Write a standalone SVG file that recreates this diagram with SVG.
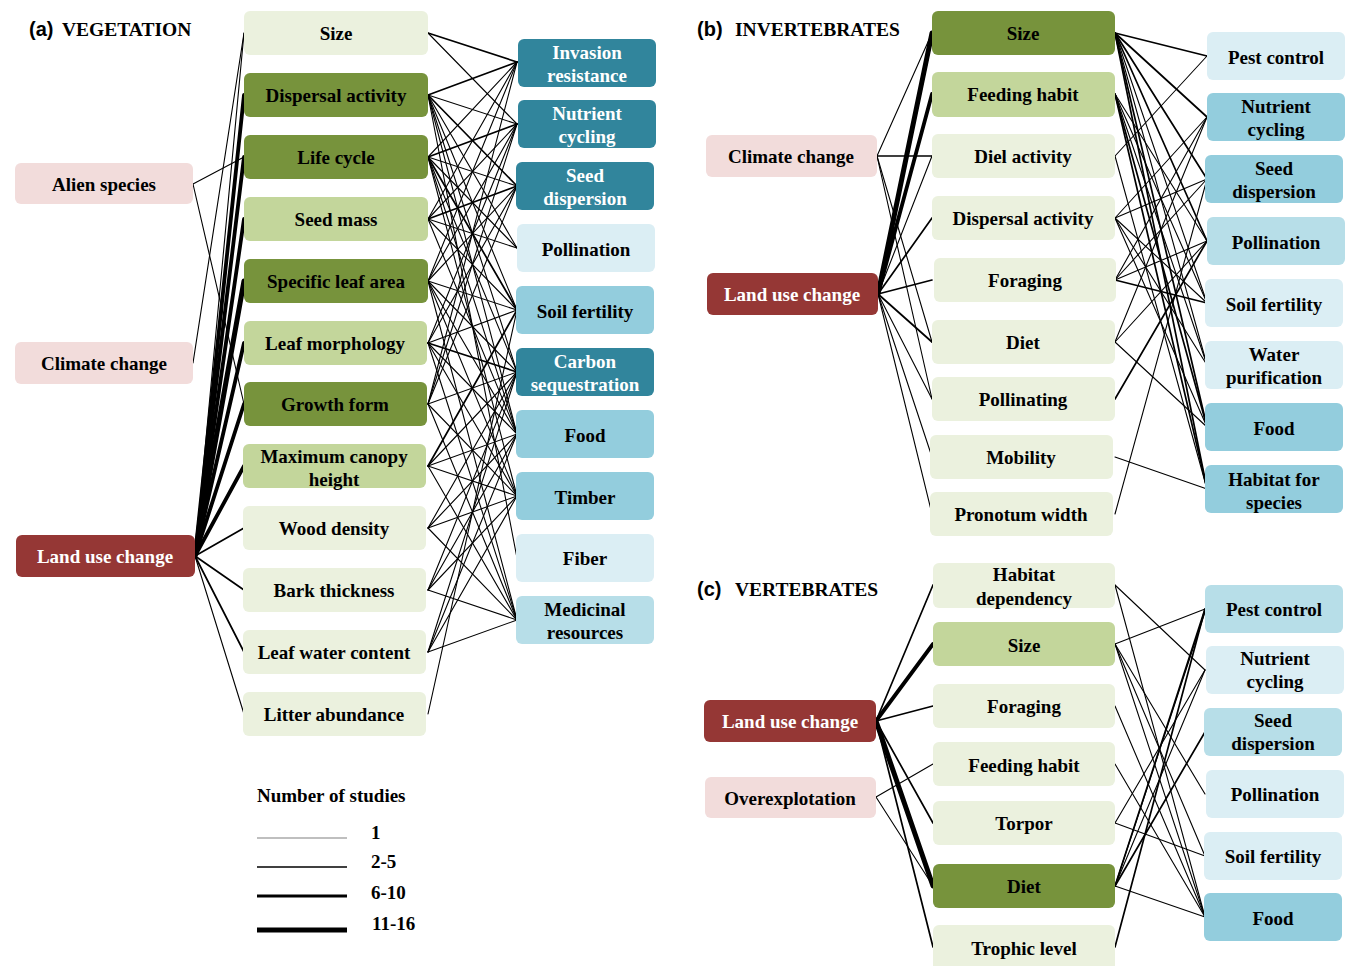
<svg xmlns="http://www.w3.org/2000/svg" width="1347" height="966" viewBox="0 0 1347 966">
<style>
text{font-family:"Liberation Serif","Times New Roman",serif;font-weight:bold;font-size:19px;text-anchor:middle;fill:#000}
.w{fill:#fff}
.ttl{text-anchor:start}
.hd{font-size:19.5px}
.lbl{font-family:"Liberation Sans",Arial,sans-serif;font-size:20px;text-anchor:start}
rect{rx:6;ry:6}
.pk{fill:#f2dcdb}.dr{fill:#953735}
.g1{fill:#ebf1de}.g2{fill:#c3d69b}.g3{fill:#77933c}
.b0{fill:#31859c}.b1{fill:#93cddd}.b2{fill:#b7dee8}.b3{fill:#dbeef4}
line{stroke:#000;stroke-linecap:round}
.t1{stroke-width:1.1}.t2{stroke-width:1.7}.t3{stroke-width:2.6}.t4{stroke-width:3.8}.t5{stroke-width:5}
</style>

<g id="titles">
<text class="lbl" x="29" y="36">(a)</text><text class="ttl hd" x="62" y="36">VEGETATION</text>
<text class="lbl" x="697" y="36">(b)</text><text class="ttl hd" x="735" y="36">INVERTEBRATES</text>
<text class="lbl" x="697" y="596">(c)</text><text class="ttl hd" x="735" y="596">VERTEBRATES</text>
</g>

<g id="connectors">
<!-- panel a drivers -->
<line class="t1" x1="193" y1="184" x2="244" y2="157"/>
<line class="t1" x1="193" y1="184" x2="244" y2="404"/>
<line class="t1" x1="193" y1="363" x2="244" y2="33"/>
<line class="t1" x1="195" y1="556" x2="244" y2="33"/>
<line class="t4" x1="195" y1="556" x2="244" y2="95"/>
<line class="t4" x1="195" y1="556" x2="244" y2="157"/>
<line class="t4" x1="195" y1="556" x2="244" y2="219"/>
<line class="t5" x1="195" y1="556" x2="244" y2="281"/>
<line class="t4" x1="195" y1="556" x2="244" y2="343"/>
<line class="t4" x1="195" y1="556" x2="244" y2="404"/>
<line class="t4" x1="195" y1="556" x2="244" y2="466"/>
<line class="t2" x1="195" y1="556" x2="244" y2="528"/>
<line class="t2" x1="195" y1="556" x2="244" y2="590"/>
<line class="t2" x1="195" y1="556" x2="244" y2="652"/>
<line class="t1" x1="195" y1="556" x2="244" y2="714"/>
<!-- panel a traits to services -->
<line class="t2" x1="428" y1="33" x2="517" y2="62"/>
<line class="t1" x1="428" y1="33" x2="517" y2="124"/>
<line class="t2" x1="428" y1="95" x2="517" y2="62"/>
<line class="t1" x1="428" y1="95" x2="517" y2="124"/>
<line class="t2" x1="428" y1="95" x2="517" y2="186"/>
<line class="t1" x1="428" y1="95" x2="517" y2="248"/>
<line class="t1" x1="428" y1="95" x2="517" y2="310"/>
<line class="t1" x1="428" y1="95" x2="517" y2="372"/>
<line class="t1" x1="428" y1="95" x2="517" y2="434"/>
<line class="t1" x1="428" y1="95" x2="517" y2="558"/>
<line class="t1" x1="428" y1="157" x2="517" y2="62"/>
<line class="t2" x1="428" y1="157" x2="517" y2="124"/>
<line class="t1" x1="428" y1="157" x2="517" y2="186"/>
<line class="t1" x1="428" y1="157" x2="517" y2="248"/>
<line class="t2" x1="428" y1="157" x2="517" y2="310"/>
<line class="t1" x1="428" y1="157" x2="517" y2="372"/>
<line class="t1" x1="428" y1="157" x2="517" y2="434"/>
<line class="t1" x1="428" y1="157" x2="517" y2="496"/>
<line class="t1" x1="428" y1="219" x2="517" y2="62"/>
<line class="t1" x1="428" y1="219" x2="517" y2="124"/>
<line class="t2" x1="428" y1="219" x2="517" y2="186"/>
<line class="t1" x1="428" y1="219" x2="517" y2="248"/>
<line class="t1" x1="428" y1="219" x2="517" y2="310"/>
<line class="t1" x1="428" y1="219" x2="517" y2="434"/>
<line class="t1" x1="428" y1="281" x2="517" y2="62"/>
<line class="t1" x1="428" y1="281" x2="517" y2="124"/>
<line class="t1" x1="428" y1="281" x2="517" y2="186"/>
<line class="t1" x1="428" y1="281" x2="517" y2="310"/>
<line class="t1" x1="428" y1="281" x2="517" y2="372"/>
<line class="t1" x1="428" y1="281" x2="517" y2="434"/>
<line class="t1" x1="428" y1="281" x2="517" y2="496"/>
<line class="t1" x1="428" y1="281" x2="517" y2="620"/>
<line class="t1" x1="428" y1="343" x2="517" y2="124"/>
<line class="t1" x1="428" y1="343" x2="517" y2="186"/>
<line class="t1" x1="428" y1="343" x2="517" y2="310"/>
<line class="t2" x1="428" y1="343" x2="517" y2="372"/>
<line class="t1" x1="428" y1="343" x2="517" y2="434"/>
<line class="t1" x1="428" y1="343" x2="517" y2="496"/>
<line class="t1" x1="428" y1="343" x2="517" y2="620"/>
<line class="t1" x1="428" y1="404" x2="517" y2="62"/>
<line class="t1" x1="428" y1="404" x2="517" y2="124"/>
<line class="t1" x1="428" y1="404" x2="517" y2="186"/>
<line class="t1" x1="428" y1="404" x2="517" y2="372"/>
<line class="t1" x1="428" y1="404" x2="517" y2="496"/>
<line class="t1" x1="428" y1="404" x2="517" y2="620"/>
<line class="t2" x1="428" y1="466" x2="517" y2="310"/>
<line class="t1" x1="428" y1="466" x2="517" y2="372"/>
<line class="t1" x1="428" y1="466" x2="517" y2="434"/>
<line class="t1" x1="428" y1="466" x2="517" y2="496"/>
<line class="t1" x1="428" y1="466" x2="517" y2="620"/>
<line class="t1" x1="428" y1="528" x2="517" y2="372"/>
<line class="t1" x1="428" y1="528" x2="517" y2="434"/>
<line class="t1" x1="428" y1="528" x2="517" y2="496"/>
<line class="t1" x1="428" y1="528" x2="517" y2="620"/>
<line class="t1" x1="428" y1="590" x2="517" y2="372"/>
<line class="t1" x1="428" y1="590" x2="517" y2="434"/>
<line class="t1" x1="428" y1="590" x2="517" y2="496"/>
<line class="t1" x1="428" y1="590" x2="517" y2="620"/>
<line class="t1" x1="428" y1="652" x2="517" y2="372"/>
<line class="t1" x1="428" y1="652" x2="517" y2="434"/>
<line class="t1" x1="428" y1="652" x2="517" y2="496"/>
<line class="t1" x1="428" y1="652" x2="517" y2="620"/>
<line class="t1" x1="428" y1="714" x2="517" y2="310"/>

<!-- panel b drivers -->
<line class="t1" x1="877" y1="156" x2="932" y2="33"/>
<line class="t2" x1="877" y1="156" x2="932" y2="156"/>
<line class="t1" x1="877" y1="156" x2="932" y2="342"/>
<line class="t1" x1="877" y1="156" x2="932" y2="399"/>
<line class="t5" x1="878" y1="294" x2="932" y2="33"/>
<line class="t3" x1="878" y1="294" x2="932" y2="36"/>
<line class="t4" x1="878" y1="294" x2="932" y2="94"/>
<line class="t1" x1="878" y1="294" x2="932" y2="156"/>
<line class="t2" x1="878" y1="294" x2="932" y2="218"/>
<line class="t2" x1="878" y1="294" x2="932" y2="280"/>
<line class="t2" x1="878" y1="294" x2="932" y2="342"/>
<line class="t1" x1="878" y1="294" x2="932" y2="399"/>
<line class="t1" x1="878" y1="294" x2="932" y2="457"/>
<line class="t1" x1="878" y1="294" x2="932" y2="514"/>
<!-- panel b traits to services -->
<line class="t2" x1="1115" y1="33" x2="1207" y2="56"/>
<line class="t2" x1="1115" y1="33" x2="1207" y2="117"/>
<line class="t2" x1="1115" y1="33" x2="1207" y2="179"/>
<line class="t2" x1="1115" y1="33" x2="1207" y2="241"/>
<line class="t1" x1="1115" y1="33" x2="1207" y2="303"/>
<line class="t1" x1="1115" y1="33" x2="1207" y2="365"/>
<line class="t2" x1="1115" y1="33" x2="1207" y2="427"/>
<line class="t2" x1="1115" y1="33" x2="1207" y2="489"/>
<line class="t1" x1="1115" y1="94" x2="1207" y2="241"/>
<line class="t1" x1="1115" y1="94" x2="1207" y2="303"/>
<line class="t1" x1="1115" y1="94" x2="1207" y2="365"/>
<line class="t2" x1="1115" y1="94" x2="1207" y2="427"/>
<line class="t2" x1="1115" y1="94" x2="1207" y2="489"/>
<line class="t1" x1="1115" y1="156" x2="1207" y2="56"/>
<line class="t1" x1="1115" y1="156" x2="1207" y2="489"/>
<line class="t1" x1="1115" y1="218" x2="1207" y2="117"/>
<line class="t1" x1="1115" y1="218" x2="1207" y2="179"/>
<line class="t1" x1="1115" y1="218" x2="1207" y2="303"/>
<line class="t1" x1="1115" y1="218" x2="1207" y2="365"/>
<line class="t1" x1="1115" y1="218" x2="1207" y2="427"/>
<line class="t1" x1="1115" y1="280" x2="1207" y2="117"/>
<line class="t1" x1="1115" y1="280" x2="1207" y2="179"/>
<line class="t1" x1="1115" y1="280" x2="1207" y2="241"/>
<line class="t2" x1="1115" y1="280" x2="1207" y2="303"/>
<line class="t1" x1="1115" y1="342" x2="1207" y2="117"/>
<line class="t1" x1="1115" y1="342" x2="1207" y2="241"/>
<line class="t1" x1="1115" y1="342" x2="1207" y2="427"/>
<line class="t2" x1="1115" y1="399" x2="1207" y2="241"/>
<line class="t1" x1="1115" y1="457" x2="1207" y2="489"/>
<line class="t1" x1="1115" y1="514" x2="1207" y2="179"/>

<!-- panel c drivers -->
<line class="t2" x1="876" y1="721" x2="933" y2="585"/>
<line class="t4" x1="876" y1="721" x2="933" y2="644"/>
<line class="t2" x1="876" y1="721" x2="933" y2="706"/>
<line class="t2" x1="876" y1="721" x2="933" y2="823"/>
<line class="t5" x1="876" y1="721" x2="933" y2="886"/>
<line class="t2" x1="876" y1="721" x2="933" y2="947"/>
<line class="t1" x1="876" y1="797" x2="933" y2="764"/>
<line class="t1" x1="876" y1="797" x2="933" y2="886"/>
<!-- panel c traits to services -->
<line class="t1" x1="1115" y1="585" x2="1205" y2="670"/>
<line class="t1" x1="1115" y1="585" x2="1205" y2="917"/>
<line class="t1" x1="1115" y1="644" x2="1205" y2="609"/>
<line class="t1" x1="1115" y1="644" x2="1205" y2="794"/>
<line class="t1" x1="1115" y1="644" x2="1205" y2="856"/>
<line class="t1" x1="1115" y1="644" x2="1205" y2="917"/>
<line class="t1" x1="1115" y1="706" x2="1205" y2="917"/>
<line class="t1" x1="1115" y1="764" x2="1205" y2="917"/>
<line class="t1" x1="1115" y1="823" x2="1205" y2="670"/>
<line class="t1" x1="1115" y1="823" x2="1205" y2="856"/>
<line class="t2" x1="1115" y1="886" x2="1205" y2="609"/>
<line class="t1" x1="1115" y1="886" x2="1205" y2="612"/>
<line class="t1" x1="1115" y1="886" x2="1205" y2="670"/>
<line class="t2" x1="1115" y1="886" x2="1205" y2="732"/>
<line class="t1" x1="1115" y1="886" x2="1205" y2="917"/>
<line class="t2" x1="1115" y1="947" x2="1205" y2="609"/>
</g>

<!-- panel a nodes -->
<g id="a-alien"><rect class="pk" x="15" y="163" width="178" height="41"/><text x="104" y="191">Alien species</text></g>
<g id="a-climate"><rect class="pk" x="15" y="342" width="178" height="42"/><text x="104" y="370">Climate change</text></g>
<g id="a-landuse"><rect class="dr" x="16" y="535" width="179" height="42"/><text class="w" x="105" y="563">Land use change</text></g>

<g id="a-size"><rect class="g1" x="244" y="11" width="184" height="44"/><text x="336" y="40">Size</text></g>
<g id="a-dispersal"><rect class="g3" x="244" y="73" width="184" height="44"/><text x="336" y="102">Dispersal activity</text></g>
<g id="a-lifecycle"><rect class="g3" x="244" y="135" width="184" height="44"/><text x="336" y="164">Life cycle</text></g>
<g id="a-seedmass"><rect class="g2" x="244" y="197" width="184" height="44"/><text x="336" y="226">Seed mass</text></g>
<g id="a-sla"><rect class="g3" x="244" y="259" width="184" height="44"/><text x="336" y="288">Specific leaf area</text></g>
<g id="a-leafmorph"><rect class="g2" x="244" y="321" width="183" height="44"/><text x="335" y="350">Leaf morphology</text></g>
<g id="a-growth"><rect class="g3" x="244" y="382" width="183" height="44"/><text x="335" y="411">Growth form</text></g>
<g id="a-canopy"><rect class="g2" x="243" y="444" width="183" height="44"/><text x="334" y="463">Maximum canopy</text><text x="334" y="486">height</text></g>
<g id="a-wood"><rect class="g1" x="243" y="506" width="183" height="44"/><text x="334" y="535">Wood density</text></g>
<g id="a-bark"><rect class="g1" x="243" y="568" width="183" height="44"/><text x="334" y="597">Bark thickness</text></g>
<g id="a-lwc"><rect class="g1" x="243" y="630" width="183" height="44"/><text x="334" y="659">Leaf water content</text></g>
<g id="a-litter"><rect class="g1" x="243" y="692" width="183" height="44"/><text x="334" y="721">Litter abundance</text></g>

<g id="a-invasion"><rect class="b0" x="518" y="39" width="138" height="48"/><text class="w" x="587" y="59">Invasion</text><text class="w" x="587" y="82">resistance</text></g>
<g id="a-nutrient"><rect class="b0" x="518" y="100" width="138" height="48"/><text class="w" x="587" y="120">Nutrient</text><text class="w" x="587" y="143">cycling</text></g>
<g id="a-seed"><rect class="b0" x="516" y="162" width="138" height="48"/><text class="w" x="585" y="182">Seed</text><text class="w" x="585" y="205">dispersion</text></g>
<g id="a-pollination"><rect class="b3" x="517" y="224" width="138" height="48"/><text x="586" y="256">Pollination</text></g>
<g id="a-soil"><rect class="b1" x="516" y="286" width="138" height="48"/><text x="585" y="318">Soil fertility</text></g>
<g id="a-carbon"><rect class="b0" x="516" y="348" width="138" height="48"/><text class="w" x="585" y="368">Carbon</text><text class="w" x="585" y="391">sequestration</text></g>
<g id="a-food"><rect class="b1" x="516" y="410" width="138" height="48"/><text x="585" y="442">Food</text></g>
<g id="a-timber"><rect class="b1" x="516" y="472" width="138" height="48"/><text x="585" y="504">Timber</text></g>
<g id="a-fiber"><rect class="b3" x="516" y="534" width="138" height="48"/><text x="585" y="565">Fiber</text></g>
<g id="a-medicinal"><rect class="b2" x="516" y="596" width="138" height="48"/><text x="585" y="616">Medicinal</text><text x="585" y="639">resources</text></g>

<!-- panel b nodes -->
<g id="b-climate"><rect class="pk" x="706" y="135" width="171" height="42"/><text x="791" y="163">Climate change</text></g>
<g id="b-landuse"><rect class="dr" x="707" y="273" width="171" height="42"/><text class="w" x="792" y="301">Land use change</text></g>

<g id="b-size"><rect class="g3" x="932" y="11" width="183" height="44"/><text x="1023" y="40">Size</text></g>
<g id="b-feeding"><rect class="g2" x="932" y="72" width="183" height="45"/><text x="1023" y="101">Feeding habit</text></g>
<g id="b-diel"><rect class="g1" x="932" y="134" width="183" height="44"/><text x="1023" y="163">Diel activity</text></g>
<g id="b-dispersal"><rect class="g1" x="932" y="196" width="183" height="44"/><text x="1023" y="225">Dispersal activity</text></g>
<g id="b-foraging"><rect class="g1" x="934" y="258" width="182" height="44"/><text x="1025" y="287">Foraging</text></g>
<g id="b-diet"><rect class="g1" x="932" y="320" width="183" height="44"/><text x="1023" y="349">Diet</text></g>
<g id="b-pollinating"><rect class="g1" x="932" y="377" width="183" height="44"/><text x="1023" y="406">Pollinating</text></g>
<g id="b-mobility"><rect class="g1" x="930" y="435" width="183" height="44"/><text x="1021" y="464">Mobility</text></g>
<g id="b-pronotum"><rect class="g1" x="930" y="492" width="183" height="44"/><text x="1021" y="521">Pronotum width</text></g>

<g id="b-pest"><rect class="b3" x="1207" y="32" width="138" height="48"/><text x="1276" y="64">Pest control</text></g>
<g id="b-nutrient"><rect class="b1" x="1207" y="93" width="138" height="48"/><text x="1276" y="113">Nutrient</text><text x="1276" y="136">cycling</text></g>
<g id="b-seed"><rect class="b1" x="1205" y="155" width="138" height="48"/><text x="1274" y="175">Seed</text><text x="1274" y="198">dispersion</text></g>
<g id="b-pollination"><rect class="b2" x="1207" y="217" width="138" height="48"/><text x="1276" y="249">Pollination</text></g>
<g id="b-soil"><rect class="b3" x="1205" y="279" width="138" height="48"/><text x="1274" y="311">Soil fertility</text></g>
<g id="b-water"><rect class="b3" x="1205" y="341" width="138" height="48"/><text x="1274" y="361">Water</text><text x="1274" y="384">purification</text></g>
<g id="b-food"><rect class="b1" x="1205" y="403" width="138" height="48"/><text x="1274" y="435">Food</text></g>
<g id="b-habitat"><rect class="b1" x="1205" y="465" width="138" height="48"/><text x="1274" y="486">Habitat for</text><text x="1274" y="509">species</text></g>

<!-- panel c nodes -->
<g id="c-landuse"><rect class="dr" x="704" y="700" width="172" height="42"/><text class="w" x="790" y="728">Land use change</text></g>
<g id="c-overexp"><rect class="pk" x="705" y="777" width="171" height="41"/><text x="790" y="805">Overexplotation</text></g>

<g id="c-habdep"><rect class="g1" x="933" y="563" width="182" height="45"/><text x="1024" y="581">Habitat</text><text x="1024" y="605">dependency</text></g>
<g id="c-size"><rect class="g2" x="933" y="622" width="182" height="44"/><text x="1024" y="652">Size</text></g>
<g id="c-foraging"><rect class="g1" x="933" y="684" width="182" height="44"/><text x="1024" y="713">Foraging</text></g>
<g id="c-feeding"><rect class="g1" x="933" y="742" width="182" height="44"/><text x="1024" y="772">Feeding habit</text></g>
<g id="c-torpor"><rect class="g1" x="933" y="801" width="182" height="44"/><text x="1024" y="830">Torpor</text></g>
<g id="c-diet"><rect class="g3" x="933" y="864" width="182" height="44"/><text x="1024" y="893">Diet</text></g>
<g id="c-trophic"><rect class="g1" x="933" y="925" width="182" height="48"/><text x="1024" y="955">Trophic level</text></g>

<g id="c-pest"><rect class="b2" x="1205" y="585" width="138" height="48"/><text x="1274" y="616">Pest control</text></g>
<g id="c-nutrient"><rect class="b3" x="1206" y="646" width="138" height="48"/><text x="1275" y="665">Nutrient</text><text x="1275" y="688">cycling</text></g>
<g id="c-seed"><rect class="b2" x="1204" y="708" width="138" height="48"/><text x="1273" y="727">Seed</text><text x="1273" y="750">dispersion</text></g>
<g id="c-pollination"><rect class="b3" x="1206" y="770" width="138" height="48"/><text x="1275" y="801">Pollination</text></g>
<g id="c-soil"><rect class="b3" x="1204" y="832" width="138" height="48"/><text x="1273" y="863">Soil fertility</text></g>
<g id="c-food"><rect class="b1" x="1204" y="893" width="138" height="48"/><text x="1273" y="925">Food</text></g>

<!-- legend -->
<g id="legend">
<text class="ttl" x="257" y="802">Number of studies</text>
<line x1="257" y1="838" x2="347" y2="838" style="stroke:#808080;stroke-width:1.2;stroke-linecap:butt"/>
<line x1="257" y1="867" x2="347" y2="867" style="stroke-width:1.6;stroke-linecap:butt"/>
<line x1="257" y1="896" x2="347" y2="896" style="stroke-width:3;stroke-linecap:butt"/>
<line x1="257" y1="930" x2="347" y2="930" style="stroke-width:5;stroke-linecap:butt"/>
<text class="ttl" x="371" y="839">1</text>
<text class="ttl" x="371" y="868">2-5</text>
<text class="ttl" x="371" y="899">6-10</text>
<text class="ttl" x="372" y="930">11-16</text>
</g>
</svg>
